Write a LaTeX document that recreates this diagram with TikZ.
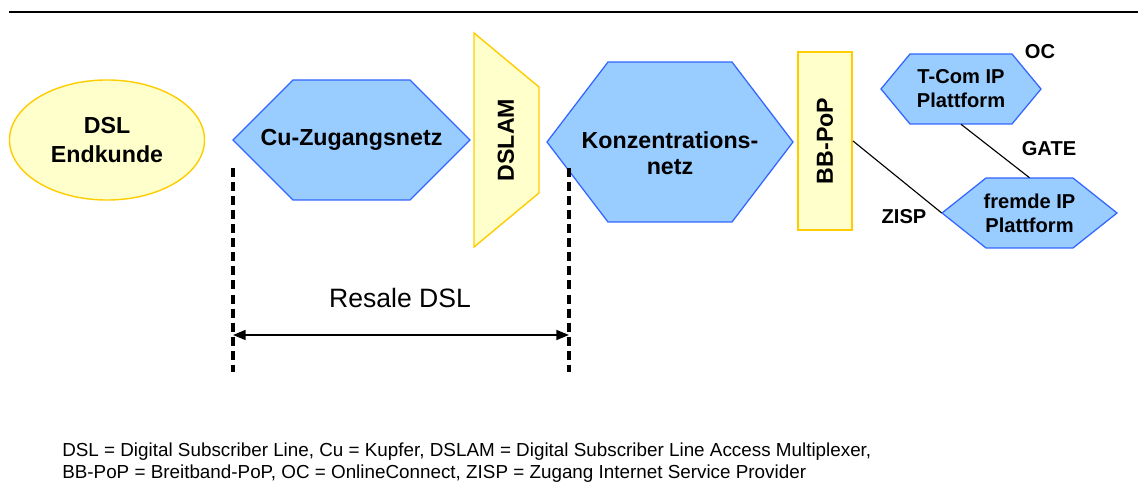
\documentclass[tikz,border=0pt]{standalone}
\usepackage{fontspec}
\setmainfont{Liberation Sans}
\usetikzlibrary{shapes.geometric, arrows.meta, positioning}
\definecolor{netblue}{HTML}{99CCFF}
\definecolor{netedge}{HTML}{3366FF}
\definecolor{dslyellow}{HTML}{FFFFCC}
\definecolor{dslgold}{HTML}{FFCC00}

% hexagon: [node options]{name}{center}{half width}{half height}{slant}{text}
\newcommand{\hexnet}[7][]{%
  \path[netshape] (#3) ++(-#4,0) -- ++(#6,-#5) -- ++({2*(#4-#6)},0) -- ++(#6,#5)
    -- ++(-#6,#5) -- ++({-2*(#4-#6)},0) -- cycle;
  \node[netlabel, minimum width={2*#4*0.025cm}, minimum height={2*#5*0.025cm}, #1] (#2) at (#3) {#7};
}

\begin{document}
\begin{tikzpicture}[x=0.025cm, y=-0.025cm]
% Define styles
\tikzstyle{netshape} = [fill=netblue, draw=netedge, line width=0.9pt]
\tikzstyle{netlabel} = [inner sep=0pt, align=center, font=\bfseries\fontsize{16.5}{19}\selectfont]
\tikzstyle{small} = [netlabel, font=\bfseries\fontsize{14.3}{17}\selectfont]
\tikzstyle{yellowpart} = [fill=dslyellow, draw=dslgold, line width=1pt]
\tikzstyle{limit} = [line width=2.2pt, dash pattern=on 6.4pt off 3.6pt]

\useasboundingbox (0,0) rectangle (1138,484);
\draw[line width=1.6pt] (9,12) -- (1138,12);

% Nodes
\node (kunde) [ellipse, yellowpart, minimum width=4.875cm, minimum height=3cm, netlabel, font=\bfseries\fontsize{16.5}{21}\selectfont] at (107,140) {DSL\\Endkunde};
\hexnet{cu}{351.5,140}{118.5}{60}{60}{Cu-Zugangsnetz}
\path[yellowpart] (474,33) -- (539,87) -- (539,193) -- (474,247) -- cycle;
\node (dslam) [netlabel, rotate=90] at (506,140) {DSLAM};
\hexnet[yshift=-0.28cm]{konz}{670,142}{123}{80}{61}{Konzentrations-\\[-1pt]netz}
\node (bbpop) [yellowpart, line width=1.4pt, minimum width=1.35cm, minimum height=4.45cm] at (825,141) {};
\node [netlabel, rotate=90] at (bbpop) {BB-PoP};
\hexnet[small]{tcom}{961,89}{80}{35}{29}{T-Com IP\\Plattform}
\hexnet[small]{fremd}{1029.5,213}{87.5}{35}{44}{fremde IP\\Plattform}

% Labels
\node (oc) [small] at (1040,52) {OC};
\node (gate) [small] at (1049,149) {GATE};
\node (zisp) [small] at (904,217) {ZISP};

% Connectors
\draw[line width=0.8pt] (bbpop.east) -- (fremd.west);
\draw[line width=0.8pt] (tcom.south) -- (fremd.north);

% Resale DSL range
\coordinate (lefttop) at (233,168);
\coordinate (leftbot) at (233,372);
\coordinate (righttop) at (569,168);
\coordinate (rightbot) at (569,372);
\draw[limit] (lefttop) -- (leftbot);
\draw[limit] (righttop) -- (rightbot);
\coordinate (leftend) at (233,335);
\coordinate (rightend) at (569,335);
\draw[line width=1.5pt, {Triangle[length=9pt,width=7pt]}-{Triangle[length=9pt,width=7pt]}] (leftend) -- (rightend);
\node (resale) [font=\fontsize{18.9}{22}\selectfont] at (400,298) {Resale DSL};

% Legend
\node (legend) [anchor=west, align=left, inner sep=0pt, font=\fontsize{13.4}{15.6}\selectfont] at (62,463)
  {DSL = Digital Subscriber Line, Cu = Kupfer, DSLAM = Digital Subscriber Line Access Multiplexer,\\
   BB-PoP = Breitband-PoP, OC = OnlineConnect, ZISP = Zugang Internet Service Provider};
\end{tikzpicture}
\end{document}
